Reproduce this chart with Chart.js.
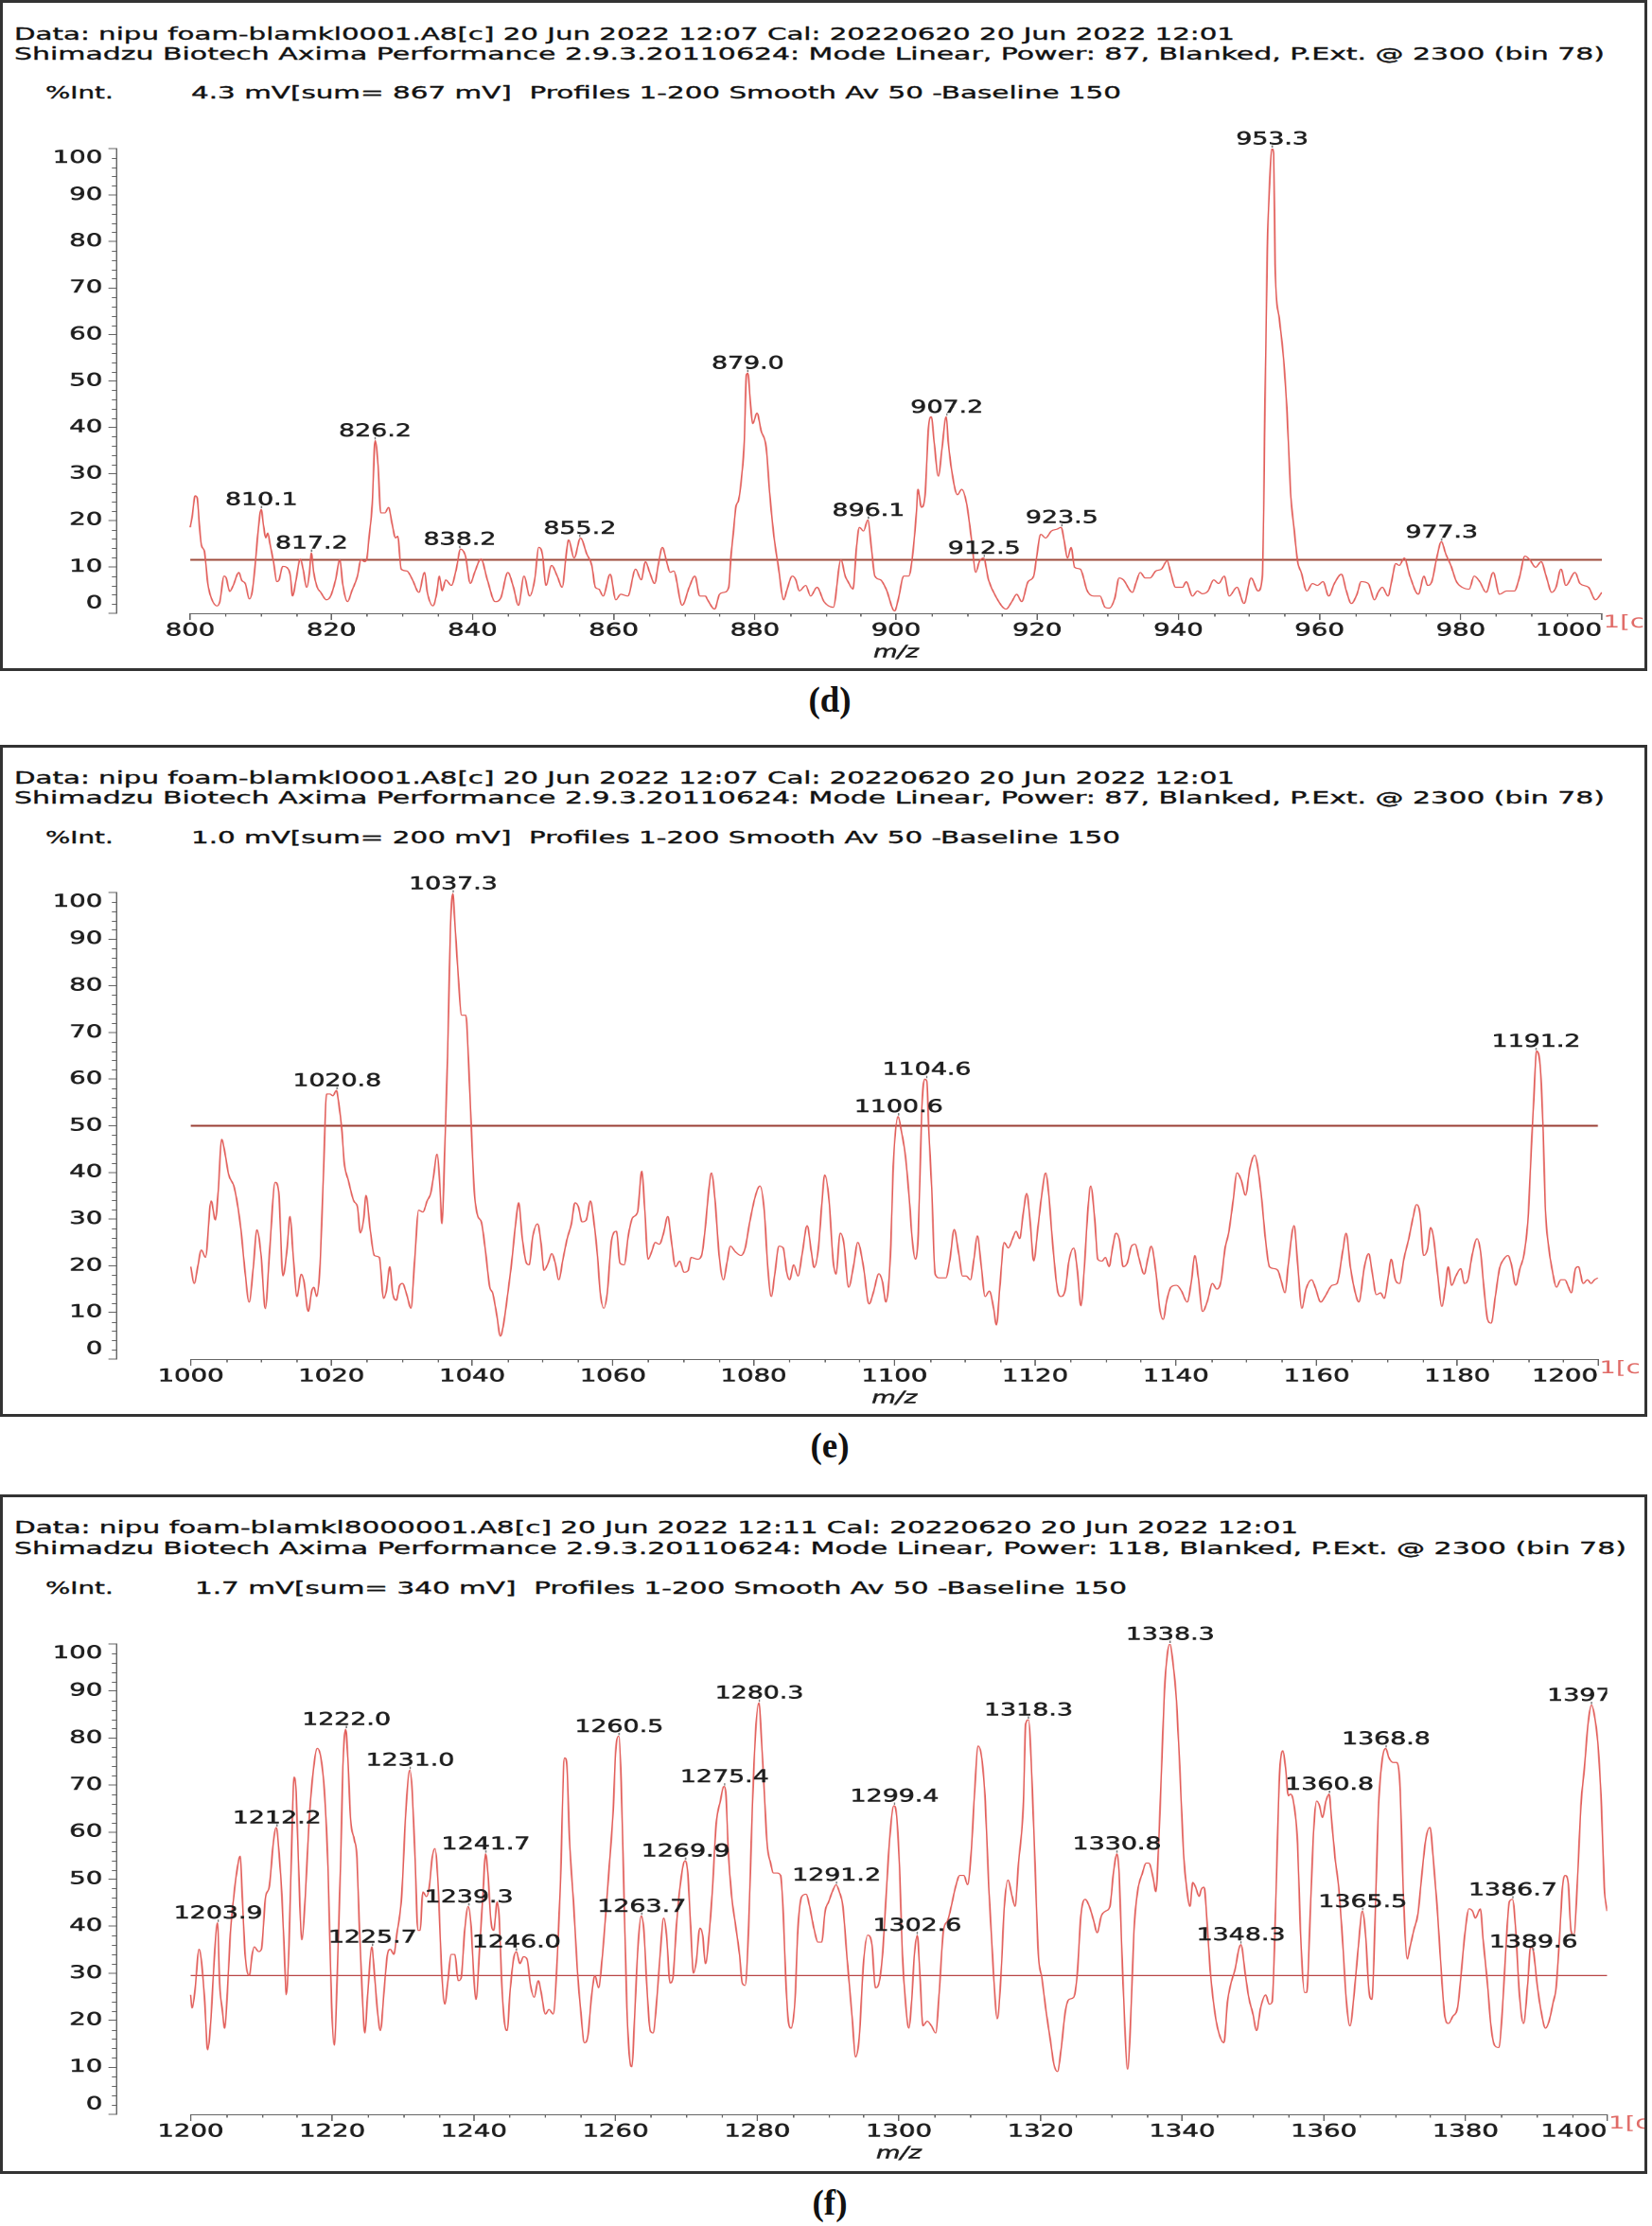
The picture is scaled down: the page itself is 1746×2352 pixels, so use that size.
<!DOCTYPE html>
<html>
<head>
<meta charset="utf-8">
<script src="https://cdn.jsdelivr.net/npm/chart.js@4.4.1/dist/chart.umd.min.js"></script>
<style>
  html, body { margin: 0; padding: 0; background: #fff; }
  body { position: relative; width: 1746px; height: 2352px; overflow: hidden; }
  .hdr { position: absolute; white-space: pre; font: 18.5px/1.164 "DejaVu Sans", sans-serif; color: #111; transform-origin: 0 0; -webkit-text-stroke: 0.35px #111; }
  .box { position: absolute; left: 0; width: 1741px; box-sizing: border-box; border: 3px solid #333; z-index: 5; pointer-events: none; }
  .cap { position: absolute; left: 777px; width: 200px; text-align: center; font: bold 37px/1 "Liberation Serif", "Times New Roman", serif; color: #111; }
</style>
</head>
<body>
<script>
// ---- panel (d) 800-1000 ----
const mzD = [800.0,800.3,800.7,801.0,801.3,801.6,802.0,802.5,802.9,803.8,804.2,804.8,805.1,805.6,806.1,806.9,807.3,807.8,808.4,808.8,809.2,809.6,810.05,810.4,810.7,811.0,811.3,811.8,812.3,812.6,813.1,813.9,814.2,814.5,815.0,815.6,816.0,816.5,816.9,817.15,817.5,818.0,818.5,819.3,819.9,820.6,821.2,821.6,822.3,822.9,823.7,824.2,824.7,825.0,825.3,825.8,826.2,826.6,827.0,827.6,828.1,828.6,829.1,829.4,829.9,830.7,831.5,832.4,833.2,833.6,834.4,834.9,835.3,835.7,836.2,837.0,837.7,838.3,839.0,839.7,840.3,841.2,842.1,843.2,844.0,845.0,845.8,846.5,847.3,848.1,848.8,849.4,849.9,850.4,851.2,852.0,852.7,853.3,853.6,854.4,855.3,856.2,856.9,857.4,857.9,858.5,859.5,860.3,861.0,862.0,863.1,863.9,864.5,865.1,865.8,866.3,866.9,867.5,868.0,868.5,869.7,870.7,871.5,872.2,873.0,873.3,874.3,875.0,875.6,876.3,876.6,877.0,877.3,877.7,878.1,878.5,878.8,879.0,879.4,879.7,880.3,880.9,881.6,882.1,882.7,883.3,884.1,884.5,885.3,885.8,886.3,887.2,887.9,888.8,889.8,891.1,892.2,892.8,893.2,893.9,894.4,894.8,895.4,896.0,896.5,897.0,897.8,898.6,899.8,900.3,901.1,901.8,902.3,902.9,903.1,903.6,904.1,904.6,905.0,905.4,906.0,906.5,907.1,907.4,907.9,908.7,909.3,910.0,910.7,911.3,911.8,912.4,913.1,914.1,915.6,916.4,917.1,917.8,918.7,919.5,919.9,920.5,921.2,922.0,922.8,923.4,923.8,924.3,924.8,925.3,926.1,927.1,928.0,928.9,929.6,930.2,931.0,931.6,932.2,933.5,934.0,934.6,935.3,936.0,936.8,937.6,938.4,938.9,939.6,940.6,941.1,942.0,942.7,943.4,944.2,945.0,945.7,946.5,947.2,948.3,949.3,950.3,951.3,951.9,952.1,952.2,952.4,952.6,952.9,953.25,953.5,953.7,954.3,954.9,955.4,955.9,956.4,956.9,957.4,958.2,959.0,959.7,960.5,961.3,962.1,963.1,963.8,964.5,965.3,965.9,966.9,967.8,968.3,968.9,969.7,970.2,970.8,971.3,972.0,972.8,974.0,974.8,975.3,975.9,976.6,977.25,977.9,978.6,979.4,980.2,981.2,981.9,982.7,983.6,984.6,985.5,986.5,987.6,988.3,989.1,989.8,990.6,991.4,992.1,992.9,993.5,994.2,994.9,996.2,996.9,998.1,999.1,1000.0];
const intD = [18.5,21,25.3,24.8,19,14.6,13.4,6.4,3.7,1.6,2.5,8,7.6,4.7,6,8.8,7.1,6.4,3.1,4.8,10.3,17.3,22.4,18.8,16.2,17.3,15,11.1,6.8,7.2,10.1,9.5,8,3.7,7.2,11.7,9.5,5.6,8.8,13,8.8,5.6,4.5,2.9,3.7,7.2,11.5,6.4,2.5,4.8,8,11.5,11.1,11.5,15.8,23.6,37.2,32.2,21.6,21.6,22.8,19.3,16.2,16.6,9.5,9.1,7.2,4.5,8.8,4.5,1.6,4.1,8,4.8,7.2,6,9.5,13.8,12.3,6.4,8.8,11.7,7.2,2.5,3.3,8.8,5.6,1.7,8,3.7,7.2,14.2,12.7,6,10.3,8,5.6,13,15.8,11.9,16.2,12.7,10.3,5.6,5.2,3.7,8.4,2.9,4.1,3.7,9.5,7.2,11.1,8.8,6.4,10.3,14.2,11.1,8.8,9.1,1.7,5.6,8,3.7,3.7,2.9,0.9,4.1,4.5,5.6,11.9,18.1,22.8,24.4,29,36.9,51.3,51.7,44.7,40.8,43.1,39.2,35.7,25.9,16.6,10.3,2.9,4.8,8,7.2,4.8,6,3.7,5.6,2.5,1.3,11.5,8,6.8,5.2,14.2,18.5,17.7,20.1,14.2,8,7.2,5.2,0.5,2.9,8,8,11.9,22,26.7,22.8,25.2,40,42.3,36.9,29.5,35.3,42.3,36.9,30.6,25.5,26.7,23.6,15.8,8.8,11.1,11.9,7.2,3.7,0.9,2.5,4.1,2.5,6.8,8,11.9,17,16.2,17.7,18.1,18.5,15.8,11.9,14.2,9.9,9.5,4.8,3.7,3.7,1.3,1.1,3.3,7.6,7.2,4.5,6.6,8.8,7.6,7.6,9.1,9.5,11.3,8.8,5.6,5.6,6.8,3.7,4.8,4.2,4.8,7.2,6.4,8,3.7,5.6,2.1,7.6,4.8,8,23.6,37.7,58,78.3,91.6,100,99,75.2,63.4,54.8,43.1,25.9,18.1,11.1,8.8,4.8,6.4,6,6.8,3.7,6.4,8.4,4.8,2.1,4.1,6.8,6.4,2.9,4.5,5.6,3.7,6.8,10.7,10.3,11.9,8,4.1,8,6,6.8,11.9,15.4,12.7,10.3,6.8,5.6,5.2,8,6.8,4.5,8.8,4.1,4.8,4.8,7.6,12.3,11.5,9.9,11.1,8,4.5,5.6,9.5,6,8.8,6.4,5.6,2.9,4.5];
const peakMzD = [810.1,817.2,826.2,838.2,855.2,879.0,896.1,907.2,912.5,923.5,953.3,977.3];
const peakIntD = [22.4,13.0,37.2,13.8,16.2,51.7,20.1,42.3,11.9,18.5,100,15.4];
const thresholdD = 11.5;

// ---- panel (e) 1000-1200 ----
const mzE = [1000.0,1000.5,1001.0,1001.5,1002.1,1002.9,1003.5,1003.9,1004.4,1004.8,1005.4,1006.2,1007.1,1007.7,1008.3,1008.9,1009.4,1010.0,1010.6,1011.2,1012.0,1012.5,1013.1,1013.7,1014.1,1014.6,1015.1,1015.7,1016.1,1016.7,1017.2,1017.5,1017.9,1018.4,1018.9,1019.3,1019.8,1020.2,1020.7,1021.0,1021.5,1021.8,1022.4,1023.2,1023.7,1024.1,1024.6,1024.9,1025.5,1026.1,1026.8,1027.4,1027.8,1028.3,1028.7,1029.2,1029.7,1030.1,1030.7,1031.3,1031.8,1032.4,1033.0,1033.6,1034.1,1034.5,1035.0,1035.4,1035.7,1036.1,1036.5,1036.9,1037.25,1037.5,1038.0,1038.5,1039.1,1039.5,1039.9,1040.3,1040.8,1041.3,1041.9,1042.5,1042.9,1043.5,1044.0,1044.4,1045.0,1045.6,1046.2,1046.6,1047.1,1047.7,1048.1,1048.6,1049.3,1049.8,1050.2,1050.8,1051.3,1051.8,1052.3,1052.9,1053.5,1054.1,1054.6,1055.1,1055.6,1056.2,1056.8,1057.3,1057.8,1058.2,1058.7,1059.2,1059.8,1060.5,1061.0,1061.6,1062.2,1062.8,1063.5,1064.1,1064.5,1065.0,1065.5,1066.0,1066.6,1067.2,1067.8,1068.3,1068.9,1069.5,1070.1,1070.7,1071.1,1072.0,1072.6,1073.1,1073.6,1074.0,1074.5,1075.1,1075.7,1076.2,1076.7,1077.4,1078.2,1078.8,1079.4,1080.2,1080.9,1081.5,1082.0,1082.5,1083.0,1083.6,1084.2,1084.7,1085.1,1085.7,1086.3,1086.9,1087.6,1088.2,1088.6,1089.2,1089.7,1090.1,1090.7,1091.3,1091.7,1092.3,1092.8,1093.5,1094.2,1094.8,1095.6,1096.4,1097.0,1097.8,1098.3,1098.8,1099.5,1099.8,1100.5,1101.0,1101.6,1102.2,1102.5,1103.0,1103.4,1103.9,1104.3,1104.6,1104.9,1105.3,1105.8,1106.4,1107.3,1107.9,1108.5,1109.1,1109.7,1110.2,1110.8,1111.3,1111.8,1112.3,1112.9,1113.5,1114.1,1114.5,1115.0,1115.6,1116.2,1116.8,1117.3,1117.8,1118.3,1118.8,1119.3,1119.8,1120.4,1121.0,1121.5,1121.9,1122.5,1123.2,1123.7,1124.3,1124.8,1125.5,1126.0,1126.5,1127.0,1127.5,1127.9,1128.5,1128.9,1129.5,1130.0,1130.5,1131.0,1131.5,1132.0,1132.5,1133.1,1133.7,1134.2,1134.8,1135.5,1136.0,1136.5,1137.2,1137.7,1138.2,1138.7,1139.3,1140.1,1140.8,1141.6,1142.2,1142.7,1143.2,1143.8,1144.5,1145.2,1145.8,1146.4,1147.0,1147.5,1148.1,1148.7,1149.3,1149.9,1150.5,1151.2,1151.6,1152.2,1152.7,1153.3,1153.9,1154.5,1155.0,1155.5,1156.0,1156.8,1157.3,1157.9,1158.5,1159.3,1159.8,1160.6,1161.2,1162.2,1162.9,1163.7,1164.2,1164.8,1165.5,1166.0,1166.8,1167.4,1167.9,1168.5,1169.1,1169.6,1170.2,1170.6,1171.2,1171.8,1172.4,1173.1,1173.7,1174.2,1174.7,1175.2,1175.8,1176.2,1176.6,1177.2,1177.8,1178.3,1178.7,1179.2,1179.8,1180.5,1181.0,1181.5,1182.1,1182.8,1183.3,1183.8,1184.3,1184.8,1185.4,1186.0,1186.6,1187.2,1187.7,1188.3,1188.9,1189.5,1190.1,1190.5,1190.9,1191.25,1191.8,1192.2,1192.5,1193.0,1193.5,1194.1,1194.7,1195.3,1195.8,1196.2,1196.8,1197.2,1197.9,1198.5,1199.0,1199.5,1200.0];
const intE = [19.8,16.2,19.8,23.4,21.8,33.9,29.8,35.9,47.1,44.7,39.5,36.7,28.2,19,12.2,19.8,27.7,22.2,10.8,22.9,37.9,35.9,17.8,23.8,30.6,21.4,13.4,18.2,16.6,10.2,14.6,15.4,13.4,20.6,41.5,56.8,56.8,56.4,57.6,55.2,48.7,42.3,38.3,33.8,32.6,27,30.3,35.1,27.8,22.2,21.8,13,14.6,19.8,14.2,12.6,15.8,16.2,13.8,10.9,20.6,31.9,31.5,33.9,35.5,39.1,43.9,37.5,29,44.7,64.8,92.1,99.8,94.5,82.5,73.7,73.7,63.2,48.7,35.9,30.6,29.4,23,15.4,14.2,9.4,4.9,7,13.4,20.6,29.4,33.5,26.2,20.6,20.2,26.2,29,24.6,19,20.6,22.6,20.6,17,21.4,25.8,29,33.5,32.6,29.4,29.8,33.9,29.4,22.2,14.2,10.9,14.2,25.4,27.4,20.6,20.2,26.6,30.3,31.5,40.3,32.6,21.4,23,25,24.6,27,30.6,25.4,19.8,21,18.6,19,21.8,21.4,22.2,27.8,35.9,39.9,34.3,22.2,17,20.6,24.2,23,22.2,23.8,29,34.7,37.1,31.9,19.8,13.4,18.2,24.2,23.8,18.6,17,20.2,17.8,22.6,28.6,23,19.6,23.8,33.5,39.5,34.3,21,18.2,27,25,15.4,20,25,19.8,11.8,14.2,18.3,16.6,12.2,24.6,39.9,52,48.8,43.1,32.7,26.2,21.4,27,53.6,60,59.6,48.7,36.7,18.2,17.4,17.4,21.4,27.8,23,17.8,17.8,17,21.4,26.4,20.6,13.4,14.6,10.9,7.3,15.8,25,23.8,25.8,27.4,25.8,31.1,35.5,29.4,21,28.2,35.9,39.9,35.9,24.6,14.6,13.4,15,21,23.8,19,11.4,19.8,31.9,37.1,29.4,21.4,21,21.8,19.8,23.8,27,25.4,19.8,20.6,24.2,24.6,21.4,18.2,21.4,24.2,18.2,10.9,8.5,12.5,15.4,15.8,14.6,12.2,16.6,22.2,17.4,10.2,12.5,16.2,15,16.6,23.8,27,33.5,39.9,38.3,35.1,40.7,43.7,41.5,34.3,26.2,19.8,19.4,19,16.6,14.2,20.6,28.6,20.6,10.9,15,17,15.4,12.2,13.4,15.8,16.2,23,27,19.8,14.2,12.2,19.8,22.6,18.6,13.8,14.2,13,17.8,21.4,17,16.2,21.4,25.8,30.3,33.1,31.1,22.2,23.8,28.2,26.2,18.2,11.3,15.4,19.8,15.8,17.8,19.4,16.2,17,22.2,25.8,23,15,8.5,7.7,13.4,19.4,21.4,22.2,20.2,15.8,19.4,22.6,31.1,44.7,56.8,66,62.4,48.7,32.7,23.8,19,15.4,17,17,15.4,14.2,19.4,19.8,16.2,17,16.2,17,17.4];
const peakMzE = [1020.8,1037.3,1100.6,1104.6,1191.2];
const peakIntE = [57.6,99.8,52,60,66];
const thresholdE = 50;

// ---- panel (f) 1200-1400 ----
const mzF = [1200.0,1200.2,1200.6,1201.2,1201.5,1202.0,1202.4,1202.9,1203.3,1203.8,1204.1,1204.5,1204.8,1205.2,1205.6,1206.1,1206.5,1207.0,1207.3,1207.7,1208.3,1208.7,1209.0,1209.6,1210.0,1210.6,1211.1,1211.7,1212.1,1212.5,1212.9,1213.3,1213.5,1213.9,1214.3,1214.6,1214.9,1215.3,1215.7,1216.2,1216.7,1217.3,1217.9,1218.4,1218.9,1219.4,1219.9,1220.3,1220.7,1221.2,1221.5,1221.9,1222.2,1222.6,1223.1,1223.5,1223.8,1224.2,1224.6,1225.0,1225.6,1225.9,1226.4,1226.8,1227.3,1227.8,1228.2,1228.7,1229.1,1229.8,1230.4,1230.95,1231.3,1231.7,1232.1,1232.4,1232.8,1233.3,1233.7,1234.1,1234.5,1235.0,1235.4,1235.9,1236.3,1236.8,1237.3,1237.8,1238.2,1238.7,1239.2,1239.6,1240.0,1240.3,1240.8,1241.3,1241.65,1242.0,1242.4,1242.8,1243.3,1243.6,1243.9,1244.3,1244.7,1245.1,1245.6,1246.0,1246.5,1247.0,1247.5,1248.0,1248.5,1249.1,1249.5,1250.1,1250.6,1251.2,1251.8,1252.2,1252.8,1253.1,1253.5,1254.1,1254.6,1255.1,1255.6,1256.1,1256.6,1257.1,1257.6,1258.1,1258.7,1259.1,1259.7,1260.0,1260.45,1260.8,1261.2,1261.6,1262.0,1262.3,1262.7,1263.1,1263.65,1264.0,1264.4,1264.9,1265.3,1265.8,1266.3,1266.8,1267.2,1267.7,1268.1,1268.6,1269.1,1269.8,1270.2,1270.6,1271.0,1271.4,1271.9,1272.3,1272.7,1273.2,1273.7,1274.2,1274.8,1275.3,1275.6,1275.9,1276.4,1276.9,1277.5,1277.9,1278.3,1278.8,1279.3,1279.8,1280.25,1280.6,1281.0,1281.4,1281.9,1282.3,1282.8,1283.3,1283.7,1284.0,1284.4,1284.8,1285.4,1285.7,1286.3,1286.9,1287.4,1288.0,1288.6,1289.1,1289.6,1290.1,1290.6,1291.15,1291.6,1292.1,1292.7,1293.4,1293.9,1294.4,1295.0,1295.6,1296.2,1296.7,1297.2,1297.7,1298.2,1298.7,1299.3,1299.6,1300.1,1300.5,1301.0,1301.4,1301.8,1302.2,1302.6,1303.0,1303.4,1304.0,1304.6,1305.2,1305.7,1306.3,1306.9,1307.4,1308.0,1308.6,1309.2,1309.7,1310.2,1310.7,1311.2,1311.7,1312.2,1312.7,1313.4,1313.9,1314.4,1314.9,1315.4,1316.0,1316.4,1316.9,1317.6,1317.9,1318.3,1318.7,1319.2,1319.7,1320.2,1320.8,1321.4,1321.9,1322.4,1322.9,1323.5,1324.0,1324.7,1325.2,1325.7,1326.3,1326.9,1327.5,1328.0,1328.6,1329.2,1329.8,1330.3,1330.8,1331.1,1331.5,1331.9,1332.3,1332.7,1333.2,1333.7,1334.4,1334.9,1335.3,1335.9,1336.3,1336.6,1337.0,1337.5,1337.9,1338.25,1338.7,1339.2,1339.7,1340.2,1340.7,1341.1,1341.5,1341.9,1342.4,1342.7,1343.1,1343.5,1344.0,1344.7,1345.3,1345.9,1346.4,1346.9,1347.5,1348.0,1348.3,1348.9,1349.4,1350.0,1350.5,1351.1,1351.8,1352.3,1352.7,1353.2,1353.7,1354.2,1354.6,1355.0,1355.3,1355.7,1356.3,1356.7,1357.3,1357.6,1358.0,1358.5,1359.0,1359.4,1359.8,1360.3,1360.75,1361.1,1361.6,1362.1,1362.6,1363.2,1363.7,1364.3,1364.9,1365.45,1365.9,1366.4,1366.8,1367.2,1367.7,1368.2,1368.75,1369.2,1369.8,1370.3,1370.8,1371.2,1371.8,1372.1,1372.7,1373.3,1373.8,1374.4,1375.0,1375.4,1376.0,1376.6,1377.1,1377.6,1378.2,1378.9,1379.4,1379.9,1380.5,1381.0,1381.4,1382.1,1382.5,1383.1,1383.6,1384.1,1384.7,1385.2,1385.7,1386.2,1386.65,1387.1,1387.6,1388.2,1388.8,1389.2,1389.6,1390.1,1390.7,1391.3,1391.8,1392.4,1392.8,1393.3,1393.7,1394.1,1394.5,1394.9,1395.3,1395.8,1396.3,1396.8,1397.3,1397.8,1398.2,1398.7,1399.2,1399.6,1400.0];
const intF = [25.4,22.6,26,35.1,33,23.9,13.7,20.8,32,40.7,27.9,22,18.3,26,38.1,46.3,51.3,54.9,46.3,34,29.5,34,35.6,34.6,35.1,46.3,48.3,58,61,55.4,46.3,32,25.4,36.1,58.5,71.7,68.6,50.3,37.1,46.3,61.5,72.7,77.8,75.8,68.6,52.4,23.9,14.7,29,54.4,73.7,81.9,75.8,62.6,58.5,54.4,41.2,26.9,17.3,25.4,35.6,31,21.8,17.8,25.9,34,35.1,34,38.1,46.3,64.6,73.2,68.6,54.4,39.1,39.1,47.3,46.3,48.3,54.4,56.5,47.3,32,23.4,27.9,34,34,28.4,29,39.1,44.2,40.1,29,24.4,35.1,47.3,55.4,50.8,41.2,39.1,45.2,41.2,29,19.8,17.8,25.9,33,34.6,32,33.5,33,27.4,24.9,28.4,25.9,21.3,22.3,21.3,34,48.3,75.8,74.8,58.5,44.2,31,21.8,15.2,16.7,24.9,29.5,26.9,33,44.2,52.4,65.6,76.8,80.4,70.7,46.3,22.8,11.7,10.1,20.8,34,42.2,39.1,27.9,17.8,17.3,23.9,34,41.7,38.1,27.9,29,40.1,48.3,53.9,51.3,40.1,30,32.5,39.6,38.1,32,38.1,48.3,61.5,66.6,69.7,67.7,56.5,46.3,40.7,34,27.9,27.4,40.1,64.6,81.9,87.5,79.9,68.6,57.5,53.4,51.3,51.3,50.8,42.2,30,19.8,18.3,25.9,38.1,46.3,46.8,44.2,39.6,36.6,36.6,43.2,45.2,47.3,48.8,47.3,44.2,33,20.8,12.2,16.2,32,38.1,36.1,26.9,27.9,34,46.3,58.5,65.6,64.6,52.4,34,22.8,18.3,23.9,34,38.1,29,18.8,19.8,18.8,17.3,25.9,39.1,41.2,44.2,48.3,50.8,50.8,48.8,55.4,68.6,78.3,75.8,66.6,48.3,29,20.3,29,44.2,49.8,46.3,44.2,53.4,66.6,82.9,83.9,74.8,54.4,34,29,21.8,15.7,10.6,9.1,13.7,21.8,24.4,24.9,30,42.2,45.7,44.2,41.2,38.6,42.2,43.2,44.2,51.3,55.4,51.3,34,18.8,9.6,18.8,39.1,47.3,51.3,53.4,53.4,50.3,47.3,54.4,69.7,90,97.7,100,96.1,88,72.7,55.4,47.3,44.2,49.3,48.3,46.3,47.8,48.3,41.2,30,20.8,16.7,15.2,23.9,27.9,31,35.1,36.1,30,24.9,21.3,17.8,22.8,25.4,23.4,23.9,44.2,70.7,77.3,73.7,67.7,68.1,66.6,57.5,39.1,25.9,25.9,39.1,58.5,66.6,65.6,63.1,66.6,68.1,62.6,54.4,48.3,38.1,23.9,18.8,25.9,36.1,43.2,38.1,25.9,24.4,39.1,64.6,74.8,77.8,75.8,74.8,74.8,68.6,48.3,33,35.1,39.1,42.7,50.3,58.5,61,55.4,44.2,30,20.8,19.3,20.8,22.8,30,38.1,43.7,43.2,41.7,43.7,37.1,27.9,18.8,14.7,14.2,21.8,35.1,45.2,45.7,39.1,25.9,19.3,27.9,35.6,34.6,27.9,21.8,18.3,19.8,23.9,26.9,38.1,48.3,50.8,49.3,39.1,38.1,49.3,65.6,73.7,82.9,87,84.9,78.8,65.6,48.3,43.2];
const peakMzF = [1203.9,1212.2,1222.0,1225.7,1231.0,1239.3,1241.7,1246.0,1260.5,1263.7,1269.9,1275.4,1280.3,1291.2,1299.4,1302.6,1318.3,1330.8,1338.3,1348.3,1360.8,1365.5,1368.8,1386.7,1389.6,1397.8];
const peakIntF = [40.7,61,81.9,35.6,73.2,44.2,55.4,34.6,80.4,42.2,53.9,69.7,87.5,48.8,65.6,38.1,83.9,55.4,100,36.1,68.1,43.2,77.8,45.7,34.6,87];
const thresholdF = 29.5;

const SX = 1.45;            // horizontal stretch of the instrument print-out
const CW = 1200;            // canvas width before stretching
const AXIS = '#666';
const TXT = '#1e1e1e';
const TICK_PX = 19;
const PEAK_PX = 18.5;

// headers
const HEAD_PX = 18.5;
const meas = document.createElement('canvas').getContext('2d');
meas.font = HEAD_PX + 'px "DejaVu Sans"';
function addText(text, x, base, w) {
  const d = document.createElement('div');
  d.className = 'hdr';
  d.textContent = text;
  d.style.left = x + 'px';
  d.style.top = (base - 0.928 * HEAD_PX) + 'px';
  d.style.transform = 'scaleX(' + (w / meas.measureText(text).width) + ')';
  document.body.appendChild(d);
}
const line1 = 'Data: nipu foam-blamkl0001.A8[c] 20 Jun 2022 12:07 Cal: 20220620 20 Jun 2022 12:01';
const line2 = 'Shimadzu Biotech Axima Performance 2.9.3.20110624: Mode Linear, Power: 87, Blanked, P.Ext. @ 2300 (bin 78)';
addText(line1, 15, 41.7, 1290);
addText(line2, 15, 62.7, 1681);
addText('%Int.', 48.3, 104.3, 71.7);
addText('4.3 mV[sum= 867 mV]  Profiles 1-200 Smooth Av 50 -Baseline 150', 201.7, 104.3, 983);
addText(line1, 15, 828.3, 1290);
addText(line2, 15, 849.3, 1681);
addText('%Int.', 48.3, 890.9, 71.7);
addText('1.0 mV[sum= 200 mV]  Profiles 1-200 Smooth Av 50 -Baseline 150', 201.7, 890.9, 982);
addText('Data: nipu foam-blamkl8000001.A8[c] 20 Jun 2022 12:11 Cal: 20220620 20 Jun 2022 12:01', 15, 1620.5, 1357);
addText('Shimadzu Biotech Axima Performance 2.9.3.20110624: Mode Linear, Power: 118, Blanked, P.Ext. @ 2300 (bin 78)', 15, 1642, 1704);
addText('%Int.', 48.3, 1684.5, 71.7);
addText('1.7 mV[sum= 340 mV]  Profiles 1-200 Smooth Av 50 -Baseline 150', 205.5, 1684.5, 985);

[[0, 709], [787, 710], [1579, 718]].forEach(([t, h]) => {
  const b = document.createElement('div');
  b.className = 'box';
  b.style.top = t + 'px';
  b.style.height = h + 'px';
  document.body.appendChild(b);
});
[['(d)', 743], ['(e)', 1531], ['(f)', 2331.5]].forEach(([s, c]) => {
  const d = document.createElement('div');
  d.className = 'cap';
  d.textContent = s;
  d.style.top = (c + 8.9 - 31) + 'px';
  document.body.appendChild(d);
});

function heavyText(ctx, s, px, py) {
  ctx.strokeText(s, px, py);
  ctx.fillText(s, px, py);
}

// axis lines, minor ticks, edge labels, peak annotations
const decor = {
  id: 'decor',
  afterDraw(chart, args, o) {
    const { ctx, chartArea: a } = chart;
    const x = chart.scales.x, y = chart.scales.y;
    ctx.save();
    ctx.strokeStyle = AXIS;
    ctx.lineWidth = 1;
    ctx.beginPath();
    ctx.moveTo(x.getPixelForValue(o.xStart), a.bottom + 0.5);
    ctx.lineTo(a.right + 0.5, a.bottom + 0.5);
    for (let v = o.xStart + 5; v < x.max; v += 5) {
      if ((v - o.xStart) % 20 === 0) continue;
      const px = Math.round(x.getPixelForValue(v)) + 0.5;
      ctx.moveTo(px, a.bottom);
      ctx.lineTo(px, a.bottom + 3.5);
    }
    for (let v = 2; v < 100; v += 2) {
      if (v % 10 === 0) continue;
      const py = Math.round(y.getPixelForValue(v)) + 0.5;
      ctx.moveTo(a.left, py);
      ctx.lineTo(a.left - 3.4, py);
    }
    ctx.stroke();

    ctx.fillStyle = TXT;
    ctx.strokeStyle = TXT;
    ctx.lineWidth = 0.5;
    ctx.font = TICK_PX + 'px "DejaVu Sans"';
    ctx.textBaseline = 'middle';
    ctx.textAlign = 'right';
    heavyText(ctx, '100', a.left - 10.3, a.top + 10.3);
    heavyText(ctx, '0', a.left - 10.3, a.bottom - 10.3);
    heavyText(ctx, String(x.max), a.right, a.bottom + 18.4);

    ctx.textAlign = 'center';
    ctx.font = 'italic 18px "DejaVu Sans"';
    heavyText(ctx, 'm/z', x.getPixelForValue((o.xStart + x.max) / 2), a.bottom + 42);

    ctx.textAlign = 'left';
    ctx.fillStyle = '#e06a66';
    ctx.font = TICK_PX + 'px "DejaVu Sans"';
    ctx.fillText('1[c', a.right + 1, a.bottom + 10);

    ctx.beginPath();
    ctx.rect(0, 0, a.right, chart.height);
    ctx.clip();
    ctx.font = PEAK_PX + 'px "DejaVu Sans"';
    ctx.fillStyle = TXT;
    ctx.textAlign = 'center';
    ctx.textBaseline = 'alphabetic';
    o.peakMz.forEach((m, i) => {
      const px = x.getPixelForValue(m);
      const py = y.getPixelForValue(o.peakInt[i]);
      ctx.strokeStyle = TXT;
      ctx.lineWidth = 0.5;
      heavyText(ctx, m.toFixed(1), px, py - 4.5);
      ctx.strokeStyle = '#777';
      ctx.lineWidth = 1;
      ctx.beginPath();
      ctx.moveTo(px, py - 3.5);
      ctx.lineTo(px, py - 1);
      ctx.stroke();
    });
    ctx.restore();
  }
};

function makeSpectrum(top, height, mz, inten, peakMz, peakInt, thr, xMin, xStart, xMax, padRight, thrColor, thrWidth) {
  const cv = document.createElement('canvas');
  cv.width = CW;
  cv.height = height;
  cv.style.cssText = 'position:absolute;left:0;top:' + top + 'px;width:' + (CW * SX) + 'px;height:' + height + 'px;';
  document.body.appendChild(cv);

  const tickFont = { family: 'DejaVu Sans', size: TICK_PX };
  new Chart(cv.getContext('2d'), {
    type: 'line',
    data: {
      datasets: [
        {
          data: mz.map((m, i) => ({ x: m, y: inten[i] })),
          borderColor: '#e25e5a',
          borderWidth: 1.15,
          pointRadius: 0,
          cubicInterpolationMode: 'monotone',
          fill: false
        },
        {
          data: [{ x: xStart, y: thr }, { x: xMax, y: thr }],
          borderColor: thrColor,
          borderWidth: thrWidth,
          pointRadius: 0,
          fill: false
        }
      ]
    },
    options: {
      responsive: false,
      animation: false,
      devicePixelRatio: 2,
      parsing: false,
      layout: { padding: { left: 0, top: 50, right: padRight, bottom: 0 } },
      plugins: {
        legend: { display: false },
        tooltip: { enabled: false },
        decor: { xStart: xStart, peakMz: peakMz, peakInt: peakInt }
      },
      scales: {
        x: {
          type: 'linear',
          min: xMin,
          max: xMax,
          afterFit: s => { s.height = 60; },
          border: { display: false },
          grid: { drawOnChartArea: false, drawTicks: true, tickLength: 7, color: AXIS, lineWidth: 1 },
          ticks: {
            stepSize: 20,
            includeBounds: false,
            autoSkip: false,
            maxRotation: 0,
            padding: 0,
            color: TXT,
            textStrokeColor: TXT,
            textStrokeWidth: 0.5,
            font: tickFont,
            callback: v => (v >= xMax - 1e-6 ? '' : String(v))
          }
        },
        y: {
          type: 'linear',
          min: 0,
          max: 100,
          afterFit: s => { s.width = 85; },
          border: { display: true, color: AXIS, width: 1 },
          grid: { drawOnChartArea: false, tickLength: 6, color: AXIS },
          ticks: {
            stepSize: 10,
            padding: 4.3,
            color: TXT,
            textStrokeColor: TXT,
            textStrokeWidth: 0.5,
            font: tickFont,
            callback: v => (v === 0 || v === 100 ? '' : String(v))
          }
        }
      }
    },
    plugins: [decor]
  });
}

makeSpectrum(107, 601, mzD, intD, peakMzD, peakIntD, thresholdD, 789.58, 800, 1000, CW - 1167.6, '#9e4c3c', 2);
makeSpectrum(893, 603, mzE, intE, peakMzE, peakIntE, thresholdE, 989.47, 1000, 1200, CW - 1164.8, '#9a3e34', 2);
makeSpectrum(1687, 607, mzF, intF, peakMzF, peakIntF, thresholdF, 1189.56, 1200, 1400, CW - 1171.4, '#b84444', 1.3);
</script>
</body>
</html>
